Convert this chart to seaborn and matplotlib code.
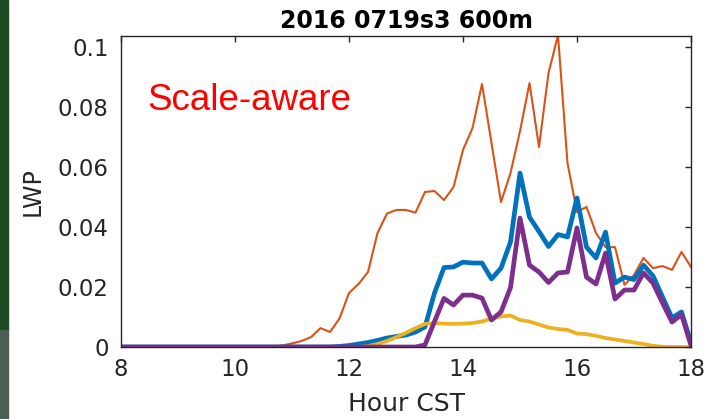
import numpy as np
import matplotlib
matplotlib.use("Agg")
import matplotlib.pyplot as plt
from matplotlib.patches import Rectangle
import seaborn as sns

# 10-minute steps from 08:00 to 18:00
hours = np.linspace(8, 18, 61)

lwp_orange = [0] * 16 + [
    0.0002, 0.0005, 0.0012, 0.002, 0.0033, 0.0063, 0.005, 0.0095,
    0.018, 0.021, 0.025, 0.038, 0.0445, 0.0457, 0.0457, 0.0448,
    0.0517, 0.052, 0.049, 0.0533, 0.0657, 0.073, 0.0877, 0.068,
    0.0483, 0.058, 0.072, 0.088, 0.0667, 0.0913, 0.104, 0.0613,
    0.045, 0.0467, 0.038, 0.0333, 0.0333, 0.0207, 0.024, 0.0297,
    0.0263, 0.027, 0.0257, 0.0317, 0.0267]

lwp_blue = [0] * 23 + [
    0.0002, 0.0005, 0.001, 0.0015, 0.0022, 0.003, 0.0035, 0.004,
    0.005, 0.0067, 0.018, 0.0265, 0.0267, 0.0283, 0.028, 0.028,
    0.0227, 0.0263, 0.035, 0.058, 0.0433, 0.0385, 0.0335, 0.0375,
    0.0367, 0.0497, 0.0333, 0.0297, 0.0383, 0.0213, 0.0233, 0.0225,
    0.0273, 0.0237, 0.0167, 0.0097, 0.0117, 0.0015]

lwp_yellow = [0] * 26 + [
    0.0003, 0.001, 0.002, 0.0033, 0.0047, 0.0063, 0.0077, 0.008,
    0.0078, 0.0077, 0.0078, 0.008, 0.0085, 0.0095, 0.0102, 0.0105,
    0.009, 0.0085, 0.0075, 0.0065, 0.006, 0.0057, 0.0045, 0.0043,
    0.0037, 0.003, 0.0025, 0.002, 0.0015, 0.001, 0.0004, 0.0001,
    0, 0, 0]

lwp_purple = [0] * 32 + [
    0.0007, 0.0085, 0.0162, 0.014, 0.0173, 0.0173, 0.0163, 0.009,
    0.0117, 0.0198, 0.043, 0.0273, 0.025, 0.0215, 0.0247, 0.025,
    0.0397, 0.0233, 0.021, 0.0313, 0.016, 0.019, 0.019, 0.0247,
    0.0213, 0.0147, 0.0083, 0.0108, 0.0005]

x_ticks = [8, 10, 12, 14, 16, 18]
y_ticks = [0, 0.02, 0.04, 0.06, 0.08, 0.1]
y_tick_labels = ["0", "0.02", "0.04", "0.06", "0.08", "0.1"]

sns.set_style("white")
plt.rcParams["font.family"] = ["DejaVu Sans"]

fig = plt.figure(figsize=(7.17, 4.19), dpi=100)
ax = fig.add_axes([121 / 717, 1 - 347 / 419, 570 / 717, 311 / 419])

# slide background strip on the left
fig.patches.append(Rectangle((0, 89 / 419), 8 / 717, 330 / 419,
                             transform=fig.transFigure, color="#1c4b23", zorder=0))
fig.patches.append(Rectangle((0, 0), 8 / 717, 89 / 419,
                             transform=fig.transFigure, color="#4a5e51", zorder=0))

sns.lineplot(x=hours, y=lwp_orange, ax=ax, color="#D95319", linewidth=1.5)
sns.lineplot(x=hours, y=lwp_blue, ax=ax, color="#0072BD", linewidth=3.4)
sns.lineplot(x=hours, y=lwp_yellow, ax=ax, color="#EDB120", linewidth=2.7)
sns.lineplot(x=hours, y=lwp_purple, ax=ax, color="#7E2F8E", linewidth=3.4)

ax.set_xlim(8, 18)
ax.set_ylim(0, 0.1037)
ax.set_xticks(x_ticks)
ax.set_xticklabels([str(t) for t in x_ticks])
ax.set_yticks(y_ticks)
ax.set_yticklabels(y_tick_labels)

for s in ax.spines.values():
    s.set_color("#262626")
    s.set_linewidth(1.0)
    s.set_visible(True)
ax.tick_params(direction="in", length=4, width=1, color="#262626",
               labelcolor="#262626", labelsize=16.5, top=True, right=True)
ax.tick_params(axis="x", pad=8)
ax.tick_params(axis="y", pad=9)

ax.set_xlabel("Hour CST", fontsize=18, color="#262626", labelpad=8)
ax.set_ylabel("LWP", fontsize=17, color="#262626", labelpad=9)
ax.set_title("2016 0719s3 600m", fontsize=17, fontweight="bold", color="black", pad=6)

fig.text(147 / 717, 1 - 110 / 419, "Scale-aware", color="red",
         fontsize=26.5, family=["Liberation Sans", "DejaVu Sans"], va="baseline")

fig.savefig("out.png", dpi=100)
